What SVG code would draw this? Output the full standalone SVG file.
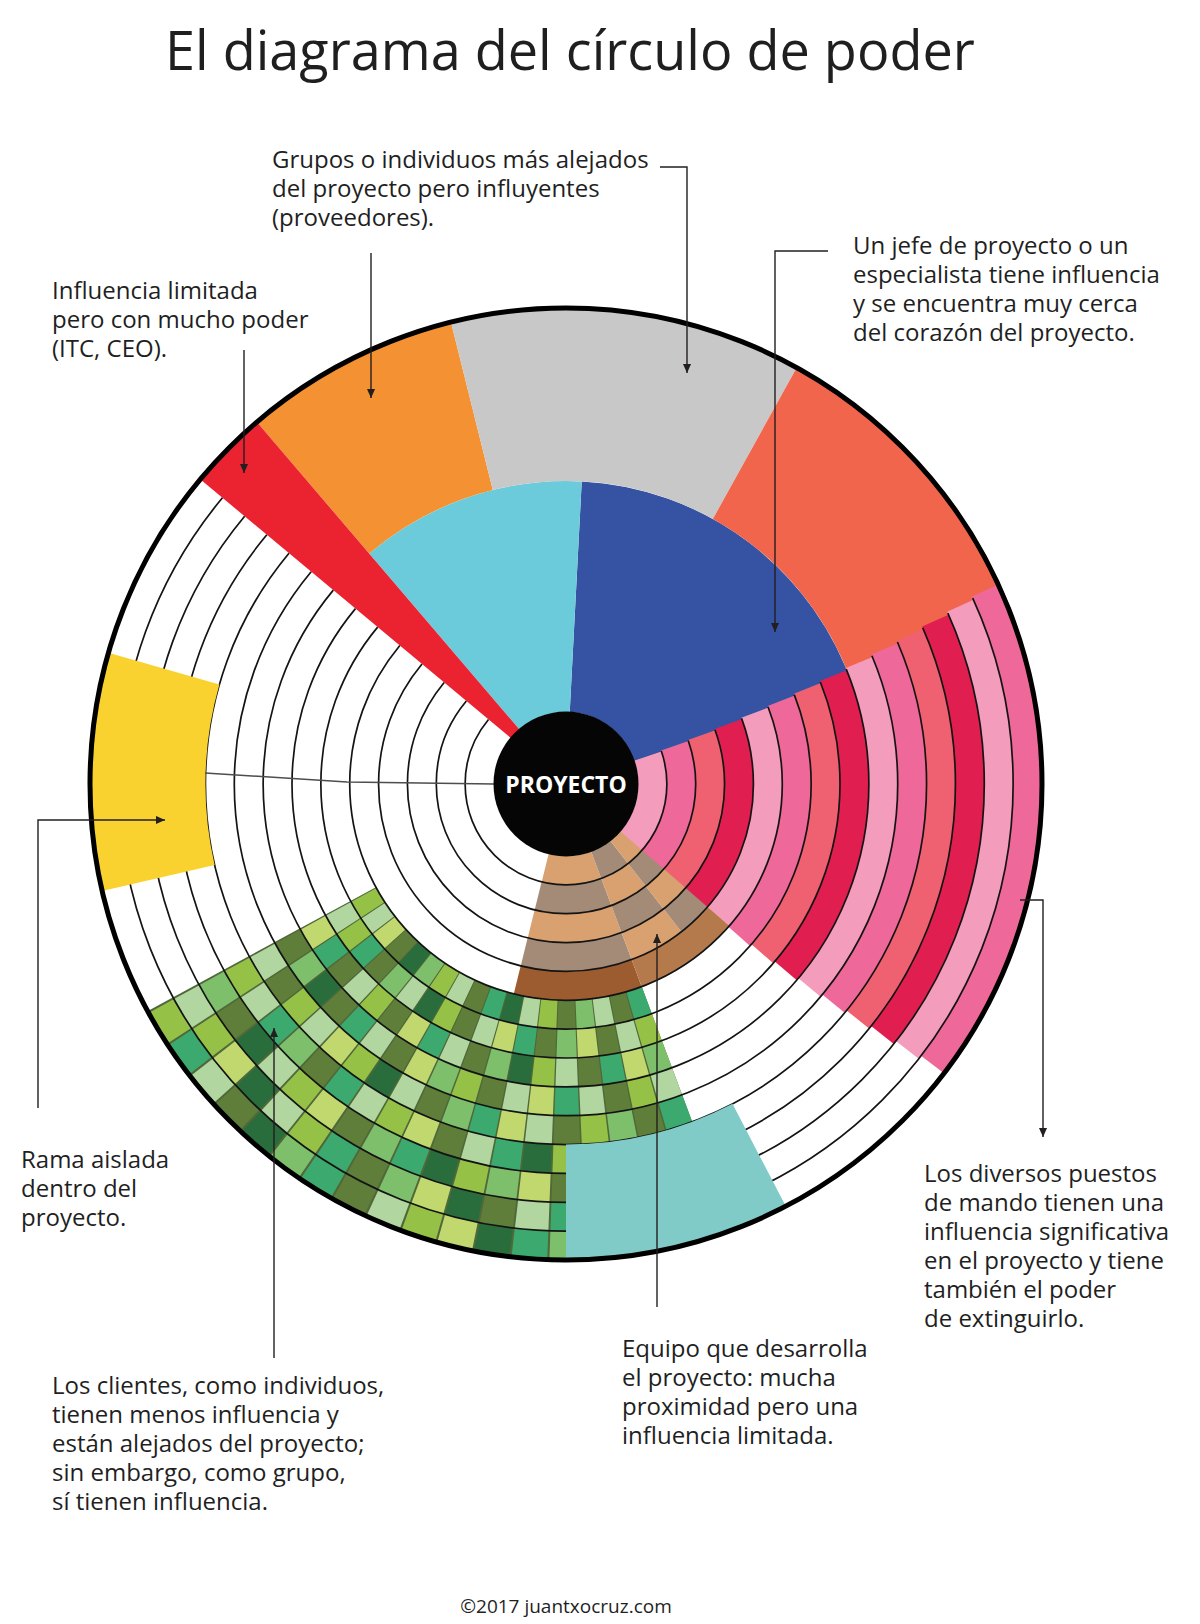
<svg xmlns="http://www.w3.org/2000/svg" width="1200" height="1624" viewBox="0 0 1200 1624">
<defs>
<style>
text{font-family:"Open Sans","Noto Sans","Liberation Sans",sans-serif;fill:#1f1f1f}
.t{font-size:24px}
#wheel circle{fill:none}
.p,.k,.b{stroke-width:28.9}
.k{stroke-dasharray:4.3 355.7}
.rl{stroke:#141414;stroke-width:1.7}
.g1{stroke:#5E7E39}.g2{stroke:#2A6D3C}.g3{stroke:#3CAA6F}.g4{stroke:#95C246}.g5{stroke:#C1D86E}.g6{stroke:#B1D6A0}.g7{stroke:#7EBF6C}
.pl{stroke:#F39CBB}.pm{stroke:#EE6899}.pc{stroke:#EF6171}.pr{stroke:#E01F50}
.bt{stroke:#D9A16F}.bg{stroke:#A38B77}
.A{stroke-dasharray:34.5 325.5;stroke-dashoffset:-69.5}
.B{stroke-dasharray:17.5 342.5;stroke-dashoffset:-52}
.C{stroke-dasharray:11 349;stroke-dashoffset:-41}
#connectors path{fill:none;stroke:#231f20;stroke-width:1.4;marker-end:url(#ah)}
</style>
<marker id="ah" viewBox="0 0 10 10" refX="10" refY="5" markerWidth="10" markerHeight="9" markerUnits="userSpaceOnUse" orient="auto"><path d="M0,0.5 L10,5 L0,9.5 Z" fill="#231f20"/></marker>
</defs>
<rect width="1200" height="1624" fill="#fff"/>
<g id="title"><text x="165" y="70" style="font-size:54px">El diagrama del círculo de poder</text></g>

<circle cx="566" cy="784" r="476" fill="#fff"/>
<g id="wheel" transform="translate(566 784)">
 <g id="sector-blue"><circle r="187.5" stroke="#3553A2" stroke-width="231" pathLength="360" stroke-dasharray="68.5 291.5" stroke-dashoffset="87"/></g>
 <g id="sector-cyan"><circle r="187.5" stroke="#6CCBDB" stroke-width="231" pathLength="360" stroke-dasharray="43.5 316.5" stroke-dashoffset="130.5"/></g>
 <g id="sector-orange"><circle r="390.5" stroke="#F39133" stroke-width="175" pathLength="360" stroke-dasharray="26.5 333.5" stroke-dashoffset="130.5"/></g>
 <g id="sector-gray"><circle r="390.5" stroke="#C8C8C8" stroke-width="175" pathLength="360" stroke-dasharray="43 317" stroke-dashoffset="104"/></g>
 <g id="sector-salmon"><circle r="390.5" stroke="#F0654C" stroke-width="175" pathLength="360" stroke-dasharray="42.5 317.5" stroke-dashoffset="61"/></g>
 <g id="sector-red"><circle r="275" stroke="#EB2330" stroke-width="406" pathLength="360" stroke-dasharray="9.7 350.3" stroke-dashoffset="140.2"/></g>

 <g id="sector-pink">
  <circle class="p pl" r="86.43" pathLength="360" stroke-dasharray="62.68 297.32" stroke-dashoffset="18.92"/>
  <circle class="p pm" r="115.29" pathLength="360" stroke-dasharray="62.64 297.36" stroke-dashoffset="19.37"/>
  <circle class="p pc" r="144.14" pathLength="360" stroke-dasharray="62.62 297.38" stroke-dashoffset="19.83"/>
  <circle class="p pr" r="173" pathLength="360" stroke-dasharray="62.58 297.42" stroke-dashoffset="20.28"/>
  <circle class="p pl" r="201.86" pathLength="360" stroke-dasharray="62.53 297.47" stroke-dashoffset="20.72"/>
  <circle class="p pm" r="230.71" pathLength="360" stroke-dasharray="62.51 297.49" stroke-dashoffset="21.18"/>
  <circle class="p pc" r="259.57" pathLength="360" stroke-dasharray="62.47 297.53" stroke-dashoffset="21.63"/>
  <circle class="p pr" r="288.43" pathLength="360" stroke-dasharray="62.43 297.57" stroke-dashoffset="22.07"/>
  <circle class="p pl" r="317.29" pathLength="360" stroke-dasharray="62.39 297.61" stroke-dashoffset="22.52"/>
  <circle class="p pm" r="346.14" pathLength="360" stroke-dasharray="62.37 297.63" stroke-dashoffset="22.98"/>
  <circle class="p pc" r="375" pathLength="360" stroke-dasharray="62.33 297.67" stroke-dashoffset="23.43"/>
  <circle class="p pr" r="403.86" pathLength="360" stroke-dasharray="62.28 297.72" stroke-dashoffset="23.87"/>
  <circle class="p pl" r="432.71" pathLength="360" stroke-dasharray="62.26 297.74" stroke-dashoffset="24.33"/>
  <circle class="p pm" r="461.57" pathLength="360" stroke-dasharray="62.22 297.78" stroke-dashoffset="24.78"/>
 </g>

 <g id="sector-brown">
  <circle class="b bt A" r="86.43" pathLength="360"/>
  <circle class="b bg B" r="86.43" pathLength="360"/>
  <circle class="b bt C" r="86.43" pathLength="360"/>
  <circle class="b bg A" r="115.29" pathLength="360"/>
  <circle class="b bt B" r="115.29" pathLength="360"/>
  <circle class="b bg C" r="115.29" pathLength="360"/>
  <circle class="b bt A" r="144.14" pathLength="360"/>
  <circle class="b bg B" r="144.14" pathLength="360"/>
  <circle class="b bt C" r="144.14" pathLength="360"/>
  <circle class="b bg A" r="173" pathLength="360"/>
  <circle class="b bt B" r="173" pathLength="360"/>
  <circle class="b bg C" r="173" pathLength="360"/>
  <circle class="b A" r="201.86" pathLength="360" stroke="#9C5C30"/>
  <circle class="b" r="201.86" pathLength="360" stroke="#B57A4B" stroke-dasharray="28.5 331.5" stroke-dashoffset="-41"/>
 </g>

 <g id="sector-green">
  <circle r="346.3" stroke="#50683A" stroke-width="260" pathLength="360" stroke-dasharray="82 278" stroke-dashoffset="-69.5"/>
  <circle class="k g3" r="230.71" pathLength="360" stroke-dashoffset="-69.5"/>
  <circle class="k g1" r="230.71" pathLength="360" stroke-dashoffset="-74.06"/>
  <circle class="k g6" r="230.71" pathLength="360" stroke-dashoffset="-78.61"/>
  <circle class="k g7" r="230.71" pathLength="360" stroke-dashoffset="-83.17"/>
  <circle class="k g1" r="230.71" pathLength="360" stroke-dashoffset="-87.72"/>
  <circle class="k g4" r="230.71" pathLength="360" stroke-dashoffset="-92.28"/>
  <circle class="k g6" r="230.71" pathLength="360" stroke-dashoffset="-96.83"/>
  <circle class="k g2" r="230.71" pathLength="360" stroke-dashoffset="-101.39"/>
  <circle class="k g3" r="230.71" pathLength="360" stroke-dashoffset="-105.94"/>
  <circle class="k g1" r="230.71" pathLength="360" stroke-dashoffset="-110.5"/>
  <circle class="k g6" r="230.71" pathLength="360" stroke-dashoffset="-115.06"/>
  <circle class="k g4" r="230.71" pathLength="360" stroke-dashoffset="-119.61"/>
  <circle class="k g7" r="230.71" pathLength="360" stroke-dashoffset="-124.17"/>
  <circle class="k g2" r="230.71" pathLength="360" stroke-dashoffset="-128.72"/>
  <circle class="k g1" r="230.71" pathLength="360" stroke-dashoffset="-133.28"/>
  <circle class="k g5" r="230.71" pathLength="360" stroke-dashoffset="-137.83"/>
  <circle class="k g6" r="230.71" pathLength="360" stroke-dashoffset="-142.39"/>
  <circle class="k g4" r="230.71" pathLength="360" stroke-dashoffset="-146.94"/>

  <circle class="k g4" r="259.57" pathLength="360" stroke-dashoffset="-69.5"/>
  <circle class="k g6" r="259.57" pathLength="360" stroke-dashoffset="-74.06"/>
  <circle class="k g1" r="259.57" pathLength="360" stroke-dashoffset="-78.61"/>
  <circle class="k g5" r="259.57" pathLength="360" stroke-dashoffset="-83.17"/>
  <circle class="k g7" r="259.57" pathLength="360" stroke-dashoffset="-87.72"/>
  <circle class="k g1" r="259.57" pathLength="360" stroke-dashoffset="-92.28"/>
  <circle class="k g3" r="259.57" pathLength="360" stroke-dashoffset="-96.83"/>
  <circle class="k g5" r="259.57" pathLength="360" stroke-dashoffset="-101.39"/>
  <circle class="k g6" r="259.57" pathLength="360" stroke-dashoffset="-105.94"/>
  <circle class="k g1" r="259.57" pathLength="360" stroke-dashoffset="-110.5"/>
  <circle class="k g4" r="259.57" pathLength="360" stroke-dashoffset="-115.06"/>
  <circle class="k g2" r="259.57" pathLength="360" stroke-dashoffset="-119.61"/>
  <circle class="k g6" r="259.57" pathLength="360" stroke-dashoffset="-124.17"/>
  <circle class="k g7" r="259.57" pathLength="360" stroke-dashoffset="-128.72"/>
  <circle class="k g1" r="259.57" pathLength="360" stroke-dashoffset="-133.28"/>
  <circle class="k g3" r="259.57" pathLength="360" stroke-dashoffset="-137.83"/>
  <circle class="k g4" r="259.57" pathLength="360" stroke-dashoffset="-142.39"/>
  <circle class="k g6" r="259.57" pathLength="360" stroke-dashoffset="-146.94"/>

  <circle class="k g7" r="288.43" pathLength="360" stroke-dashoffset="-69.5"/>
  <circle class="k g5" r="288.43" pathLength="360" stroke-dashoffset="-74.06"/>
  <circle class="k g3" r="288.43" pathLength="360" stroke-dashoffset="-78.61"/>
  <circle class="k g1" r="288.43" pathLength="360" stroke-dashoffset="-83.17"/>
  <circle class="k g6" r="288.43" pathLength="360" stroke-dashoffset="-87.72"/>
  <circle class="k g4" r="288.43" pathLength="360" stroke-dashoffset="-92.28"/>
  <circle class="k g2" r="288.43" pathLength="360" stroke-dashoffset="-96.83"/>
  <circle class="k g7" r="288.43" pathLength="360" stroke-dashoffset="-101.39"/>
  <circle class="k g1" r="288.43" pathLength="360" stroke-dashoffset="-105.94"/>
  <circle class="k g6" r="288.43" pathLength="360" stroke-dashoffset="-110.5"/>
  <circle class="k g3" r="288.43" pathLength="360" stroke-dashoffset="-115.06"/>
  <circle class="k g5" r="288.43" pathLength="360" stroke-dashoffset="-119.61"/>
  <circle class="k g1" r="288.43" pathLength="360" stroke-dashoffset="-124.17"/>
  <circle class="k g4" r="288.43" pathLength="360" stroke-dashoffset="-128.72"/>
  <circle class="k g6" r="288.43" pathLength="360" stroke-dashoffset="-133.28"/>
  <circle class="k g1" r="288.43" pathLength="360" stroke-dashoffset="-137.83"/>
  <circle class="k g3" r="288.43" pathLength="360" stroke-dashoffset="-142.39"/>
  <circle class="k g5" r="288.43" pathLength="360" stroke-dashoffset="-146.94"/>

  <circle class="k g6" r="317.29" pathLength="360" stroke-dashoffset="-69.5"/>
  <circle class="k g4" r="317.29" pathLength="360" stroke-dashoffset="-74.06"/>
  <circle class="k g1" r="317.29" pathLength="360" stroke-dashoffset="-78.61"/>
  <circle class="k g6" r="317.29" pathLength="360" stroke-dashoffset="-83.17"/>
  <circle class="k g3" r="317.29" pathLength="360" stroke-dashoffset="-87.72"/>
  <circle class="k g5" r="317.29" pathLength="360" stroke-dashoffset="-92.28"/>
  <circle class="k g6" r="317.29" pathLength="360" stroke-dashoffset="-96.83"/>
  <circle class="k g1" r="317.29" pathLength="360" stroke-dashoffset="-101.39"/>
  <circle class="k g4" r="317.29" pathLength="360" stroke-dashoffset="-105.94"/>
  <circle class="k g7" r="317.29" pathLength="360" stroke-dashoffset="-110.5"/>
  <circle class="k g5" r="317.29" pathLength="360" stroke-dashoffset="-115.06"/>
  <circle class="k g1" r="317.29" pathLength="360" stroke-dashoffset="-119.61"/>
  <circle class="k g6" r="317.29" pathLength="360" stroke-dashoffset="-124.17"/>
  <circle class="k g3" r="317.29" pathLength="360" stroke-dashoffset="-128.72"/>
  <circle class="k g1" r="317.29" pathLength="360" stroke-dashoffset="-133.28"/>
  <circle class="k g2" r="317.29" pathLength="360" stroke-dashoffset="-137.83"/>
  <circle class="k g7" r="317.29" pathLength="360" stroke-dashoffset="-142.39"/>
  <circle class="k g1" r="317.29" pathLength="360" stroke-dashoffset="-146.94"/>

  <circle class="k g3" r="346.14" pathLength="360" stroke-dashoffset="-69.5"/>
  <circle class="k g1" r="346.14" pathLength="360" stroke-dashoffset="-74.06"/>
  <circle class="k g7" r="346.14" pathLength="360" stroke-dashoffset="-78.61"/>
  <circle class="k g4" r="346.14" pathLength="360" stroke-dashoffset="-83.17"/>
  <circle class="k g1" r="346.14" pathLength="360" stroke-dashoffset="-87.72"/>
  <circle class="k g6" r="346.14" pathLength="360" stroke-dashoffset="-92.28"/>
  <circle class="k g5" r="346.14" pathLength="360" stroke-dashoffset="-96.83"/>
  <circle class="k g3" r="346.14" pathLength="360" stroke-dashoffset="-101.39"/>
  <circle class="k g7" r="346.14" pathLength="360" stroke-dashoffset="-105.94"/>
  <circle class="k g1" r="346.14" pathLength="360" stroke-dashoffset="-110.5"/>
  <circle class="k g6" r="346.14" pathLength="360" stroke-dashoffset="-115.06"/>
  <circle class="k g2" r="346.14" pathLength="360" stroke-dashoffset="-119.61"/>
  <circle class="k g4" r="346.14" pathLength="360" stroke-dashoffset="-124.17"/>
  <circle class="k g5" r="346.14" pathLength="360" stroke-dashoffset="-128.72"/>
  <circle class="k g6" r="346.14" pathLength="360" stroke-dashoffset="-133.28"/>
  <circle class="k g4" r="346.14" pathLength="360" stroke-dashoffset="-137.83"/>
  <circle class="k g1" r="346.14" pathLength="360" stroke-dashoffset="-142.39"/>
  <circle class="k g6" r="346.14" pathLength="360" stroke-dashoffset="-146.94"/>

  <circle class="k g4" r="375" pathLength="360" stroke-dashoffset="-87.72"/>
  <circle class="k g2" r="375" pathLength="360" stroke-dashoffset="-92.28"/>
  <circle class="k g3" r="375" pathLength="360" stroke-dashoffset="-96.83"/>
  <circle class="k g6" r="375" pathLength="360" stroke-dashoffset="-101.39"/>
  <circle class="k g1" r="375" pathLength="360" stroke-dashoffset="-105.94"/>
  <circle class="k g5" r="375" pathLength="360" stroke-dashoffset="-110.5"/>
  <circle class="k g4" r="375" pathLength="360" stroke-dashoffset="-115.06"/>
  <circle class="k g6" r="375" pathLength="360" stroke-dashoffset="-119.61"/>
  <circle class="k g3" r="375" pathLength="360" stroke-dashoffset="-124.17"/>
  <circle class="k g1" r="375" pathLength="360" stroke-dashoffset="-128.72"/>
  <circle class="k g7" r="375" pathLength="360" stroke-dashoffset="-133.28"/>
  <circle class="k g3" r="375" pathLength="360" stroke-dashoffset="-137.83"/>
  <circle class="k g6" r="375" pathLength="360" stroke-dashoffset="-142.39"/>
  <circle class="k g4" r="375" pathLength="360" stroke-dashoffset="-146.94"/>

  <circle class="k g1" r="403.86" pathLength="360" stroke-dashoffset="-87.72"/>
  <circle class="k g5" r="403.86" pathLength="360" stroke-dashoffset="-92.28"/>
  <circle class="k g7" r="403.86" pathLength="360" stroke-dashoffset="-96.83"/>
  <circle class="k g4" r="403.86" pathLength="360" stroke-dashoffset="-101.39"/>
  <circle class="k g2" r="403.86" pathLength="360" stroke-dashoffset="-105.94"/>
  <circle class="k g3" r="403.86" pathLength="360" stroke-dashoffset="-110.5"/>
  <circle class="k g7" r="403.86" pathLength="360" stroke-dashoffset="-115.06"/>
  <circle class="k g1" r="403.86" pathLength="360" stroke-dashoffset="-119.61"/>
  <circle class="k g5" r="403.86" pathLength="360" stroke-dashoffset="-124.17"/>
  <circle class="k g4" r="403.86" pathLength="360" stroke-dashoffset="-128.72"/>
  <circle class="k g6" r="403.86" pathLength="360" stroke-dashoffset="-133.28"/>
  <circle class="k g2" r="403.86" pathLength="360" stroke-dashoffset="-137.83"/>
  <circle class="k g1" r="403.86" pathLength="360" stroke-dashoffset="-142.39"/>
  <circle class="k g7" r="403.86" pathLength="360" stroke-dashoffset="-146.94"/>

  <circle class="k g3" r="432.71" pathLength="360" stroke-dashoffset="-87.72"/>
  <circle class="k g6" r="432.71" pathLength="360" stroke-dashoffset="-92.28"/>
  <circle class="k g1" r="432.71" pathLength="360" stroke-dashoffset="-96.83"/>
  <circle class="k g2" r="432.71" pathLength="360" stroke-dashoffset="-101.39"/>
  <circle class="k g5" r="432.71" pathLength="360" stroke-dashoffset="-105.94"/>
  <circle class="k g7" r="432.71" pathLength="360" stroke-dashoffset="-110.5"/>
  <circle class="k g1" r="432.71" pathLength="360" stroke-dashoffset="-115.06"/>
  <circle class="k g3" r="432.71" pathLength="360" stroke-dashoffset="-119.61"/>
  <circle class="k g4" r="432.71" pathLength="360" stroke-dashoffset="-124.17"/>
  <circle class="k g6" r="432.71" pathLength="360" stroke-dashoffset="-128.72"/>
  <circle class="k g2" r="432.71" pathLength="360" stroke-dashoffset="-133.28"/>
  <circle class="k g5" r="432.71" pathLength="360" stroke-dashoffset="-137.83"/>
  <circle class="k g4" r="432.71" pathLength="360" stroke-dashoffset="-142.39"/>
  <circle class="k g6" r="432.71" pathLength="360" stroke-dashoffset="-146.94"/>

  <circle class="k g7" r="461.57" pathLength="360" stroke-dashoffset="-87.72"/>
  <circle class="k g3" r="461.57" pathLength="360" stroke-dashoffset="-92.28"/>
  <circle class="k g2" r="461.57" pathLength="360" stroke-dashoffset="-96.83"/>
  <circle class="k g5" r="461.57" pathLength="360" stroke-dashoffset="-101.39"/>
  <circle class="k g4" r="461.57" pathLength="360" stroke-dashoffset="-105.94"/>
  <circle class="k g6" r="461.57" pathLength="360" stroke-dashoffset="-110.5"/>
  <circle class="k g1" r="461.57" pathLength="360" stroke-dashoffset="-115.06"/>
  <circle class="k g3" r="461.57" pathLength="360" stroke-dashoffset="-119.61"/>
  <circle class="k g7" r="461.57" pathLength="360" stroke-dashoffset="-124.17"/>
  <circle class="k g2" r="461.57" pathLength="360" stroke-dashoffset="-128.72"/>
  <circle class="k g1" r="461.57" pathLength="360" stroke-dashoffset="-133.28"/>
  <circle class="k g6" r="461.57" pathLength="360" stroke-dashoffset="-137.83"/>
  <circle class="k g3" r="461.57" pathLength="360" stroke-dashoffset="-142.39"/>
  <circle class="k g4" r="461.57" pathLength="360" stroke-dashoffset="-146.94"/>
 </g>

 <g id="ring-lines">
  <circle class="rl" r="100.86" pathLength="360" stroke-dasharray="238.95 121.05" stroke-dashoffset="19.15"/>
  <circle class="rl" r="129.71" pathLength="360" stroke-dasharray="239.4 120.6" stroke-dashoffset="19.6"/>
  <circle class="rl" r="158.57" pathLength="360" stroke-dasharray="239.85 120.15" stroke-dashoffset="20.05"/>
  <circle class="rl" r="187.43" pathLength="360" stroke-dasharray="240.3 119.7" stroke-dashoffset="20.5"/>
  <circle class="rl" r="216.29" pathLength="360" stroke-dasharray="240.75 119.25" stroke-dashoffset="20.95"/>
  <circle class="rl" r="245.14" pathLength="360" stroke-dasharray="241.2 118.8" stroke-dashoffset="21.4"/>
  <circle class="rl" r="274" pathLength="360" stroke-dasharray="241.65 118.35" stroke-dashoffset="21.85"/>
  <circle class="rl" r="302.86" pathLength="360" stroke-dasharray="242.1 117.9" stroke-dashoffset="22.3"/>
  <circle class="rl" r="331.71" pathLength="360" stroke-dasharray="242.55 117.45" stroke-dashoffset="22.75"/>
  <circle class="rl" r="360.57" pathLength="360" stroke-dasharray="243 117" stroke-dashoffset="23.2"/>
  <circle class="rl" r="389.43" pathLength="360" stroke-dasharray="243.45 116.55" stroke-dashoffset="23.65"/>
  <circle class="rl" r="418.29" pathLength="360" stroke-dasharray="243.9 116.1" stroke-dashoffset="24.1"/>
  <circle class="rl" r="447.14" pathLength="360" stroke-dasharray="244.35 115.65" stroke-dashoffset="24.55"/>
 </g>

 <g id="sector-teal"><circle r="418.3" stroke="#80CAC7" stroke-width="115.4" pathLength="360" stroke-dasharray="27.5 332.5" stroke-dashoffset="-62.5"/></g>
 <g id="sector-yellow"><circle r="418.3" stroke="#FAD22F" stroke-width="115.4" pathLength="360" stroke-dasharray="29 331" stroke-dashoffset="-167"/></g>
</g>

<path d="M205,773 L347,782 L494,784" fill="none" stroke="#4d4d4d" stroke-width="1.5"/>
<circle cx="566" cy="784" r="476" fill="none" stroke="#000" stroke-width="5"/>
<g id="node-proyecto">
 <circle cx="566" cy="784" r="72.5" fill="#050505"/>
 <text x="566" y="793" text-anchor="middle" style="font-size:23px;font-weight:700;fill:#fff">PROYECTO</text>
</g>

<g id="connectors">
 <path d="M660,167 H687 V373"/>
 <path d="M371,253 V398"/>
 <path d="M244,350 V473"/>
 <path d="M828,251 H775 V632"/>
 <path d="M38,1108 V820 H165"/>
 <path d="M274,1358 V1028"/>
 <path d="M657,1307 V934"/>
 <path d="M1020,900 H1043 V1137"/>
</g>

<g id="label-proveedores" class="t">
 <text x="272" y="168">Grupos o individuos más alejados</text>
 <text x="272" y="197">del proyecto pero influyentes</text>
 <text x="272" y="226">(proveedores).</text>
</g>
<g id="label-itc" class="t">
 <text x="52" y="299">Influencia limitada</text>
 <text x="52" y="328">pero con mucho poder</text>
 <text x="52" y="357">(ITC, CEO).</text>
</g>
<g id="label-jefe" class="t">
 <text x="853" y="254">Un jefe de proyecto o un</text>
 <text x="853" y="283">especialista tiene influencia</text>
 <text x="853" y="312">y se encuentra muy cerca</text>
 <text x="853" y="341">del corazón del proyecto.</text>
</g>
<g id="label-rama" class="t">
 <text x="21" y="1168">Rama aislada</text>
 <text x="21" y="1197">dentro del</text>
 <text x="21" y="1226">proyecto.</text>
</g>
<g id="label-mando" class="t">
 <text x="924" y="1182">Los diversos puestos</text>
 <text x="924" y="1211">de mando tienen una</text>
 <text x="924" y="1240">influencia significativa</text>
 <text x="924" y="1269">en el proyecto y tiene</text>
 <text x="924" y="1298">también el poder</text>
 <text x="924" y="1327">de extinguirlo.</text>
</g>
<g id="label-equipo" class="t">
 <text x="622" y="1357">Equipo que desarrolla</text>
 <text x="622" y="1386">el proyecto: mucha</text>
 <text x="622" y="1415">proximidad pero una</text>
 <text x="622" y="1444">influencia limitada.</text>
</g>
<g id="label-clientes" class="t">
 <text x="52" y="1394">Los clientes, como individuos,</text>
 <text x="52" y="1423">tienen menos influencia y</text>
 <text x="52" y="1452">están alejados del proyecto;</text>
 <text x="52" y="1481">sin embargo, como grupo,</text>
 <text x="52" y="1510">sí tienen influencia.</text>
</g>
<g id="footer"><text x="566" y="1613" text-anchor="middle" style="font-size:19px">©2017 juantxocruz.com</text></g>
</svg>
